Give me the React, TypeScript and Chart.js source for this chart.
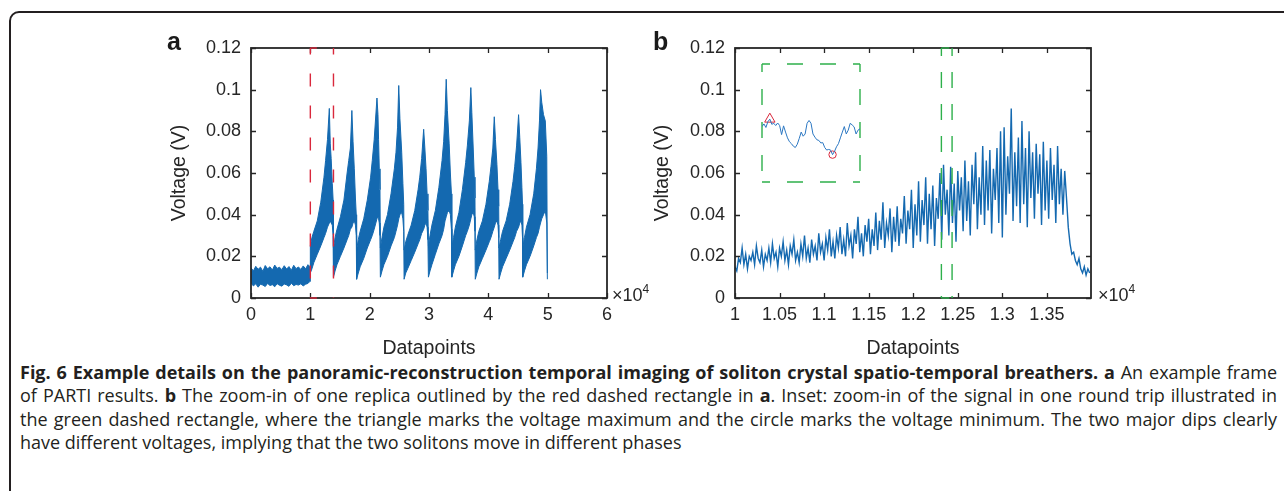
import React, { useEffect, useRef } from 'react';
import { Chart, registerables } from 'chart.js';

Chart.register(...registerables);

// ---------------- Panel a : full frame (x in units of 10^4 datapoints) ----------------
const aX = [
  0, 0.04, 0.08, 0.12, 0.16, 0.2, 0.24, 0.28, 0.32, 0.36, 0.4, 0.44, 0.48, 0.52, 0.56, 0.6, 0.64, 0.68, 0.72, 0.76, 0.8, 0.84, 0.88, 0.92, 0.96, 0.995,
  1.000, 1.027, 1.059, 1.117, 1.176, 1.230, 1.257, 1.289, 1.320, 1.336, 1.351, 1.370, 1.384,
  1.390, 1.417, 1.449, 1.507, 1.566, 1.620, 1.647, 1.675, 1.700, 1.720, 1.741, 1.760, 1.774,
  1.780, 1.808, 1.840, 1.900, 1.960, 2.016, 2.044, 2.076, 2.123, 2.140, 2.150, 2.162, 2.174,
  2.180, 2.208, 2.240, 2.300, 2.360, 2.416, 2.444, 2.470, 2.490, 2.510, 2.540, 2.560, 2.574,
  2.580, 2.608, 2.640, 2.700, 2.760, 2.816, 2.844, 2.876, 2.910, 2.930, 2.950, 2.968, 2.982,
  2.990, 3.017, 3.049, 3.107, 3.166, 3.220, 3.247, 3.270, 3.290, 3.310, 3.340, 3.360, 3.378,
  3.385, 3.413, 3.444, 3.504, 3.563, 3.618, 3.646, 3.680, 3.705, 3.722, 3.745, 3.763, 3.775,
  3.780, 3.808, 3.840, 3.900, 3.960, 4.016, 4.044, 4.076, 4.100, 4.120, 4.145, 4.163, 4.175,
  4.180, 4.208, 4.240, 4.300, 4.360, 4.416, 4.444, 4.476, 4.510, 4.530, 4.550, 4.566, 4.576,
  4.580, 4.609, 4.642, 4.703, 4.765, 4.810, 4.838, 4.862, 4.880, 4.900, 4.930, 4.960, 4.985,
  4.995,
];
// upper envelope of the dense signal
const aHigh = [
  0.0145, 0.0130, 0.0152, 0.0138, 0.0148, 0.0128, 0.0156, 0.0140, 0.0150, 0.0134, 0.0158, 0.0142, 0.0148, 0.0136, 0.0155, 0.0139, 0.0151, 0.0133, 0.0157, 0.0141, 0.0149, 0.0137, 0.0154, 0.0140, 0.0160, 0.0150,
  0.025, 0.029, 0.032, 0.037, 0.046, 0.058, 0.066, 0.076, 0.091, 0.074, 0.067, 0.055, 0.047,
  0.024, 0.029, 0.033, 0.039, 0.047, 0.060, 0.066, 0.072, 0.090, 0.075, 0.062, 0.048, 0.040,
  0.023, 0.028, 0.032, 0.038, 0.047, 0.058, 0.066, 0.076, 0.096, 0.088, 0.076, 0.062, 0.052,
  0.024, 0.029, 0.034, 0.040, 0.050, 0.062, 0.070, 0.082, 0.102, 0.086, 0.070, 0.055, 0.045,
  0.023, 0.027, 0.030, 0.035, 0.042, 0.052, 0.058, 0.067, 0.081, 0.072, 0.062, 0.050, 0.042,
  0.025, 0.030, 0.035, 0.042, 0.053, 0.066, 0.075, 0.088, 0.105, 0.090, 0.074, 0.060, 0.050,
  0.024, 0.029, 0.034, 0.041, 0.052, 0.065, 0.073, 0.085, 0.101, 0.089, 0.072, 0.058, 0.048,
  0.023, 0.028, 0.032, 0.037, 0.045, 0.056, 0.063, 0.072, 0.087, 0.076, 0.064, 0.052, 0.044,
  0.024, 0.028, 0.032, 0.037, 0.045, 0.056, 0.063, 0.073, 0.088, 0.077, 0.065, 0.053, 0.045,
  0.024, 0.029, 0.034, 0.040, 0.050, 0.062, 0.072, 0.085, 0.100, 0.094, 0.088, 0.085, 0.068,
  0.012,
];
// lower envelope of the dense signal
const aLow = [
  0.0072, 0.0058, 0.0068, 0.0052, 0.0066, 0.0062, 0.0055, 0.0070, 0.0060, 0.0064, 0.0054, 0.0069, 0.0061, 0.0057, 0.0067, 0.0063, 0.0056, 0.0071, 0.0059, 0.0065, 0.0062, 0.0068, 0.0058, 0.0066, 0.0070, 0.0080,
  0.012, 0.014, 0.017, 0.021, 0.025, 0.029, 0.031, 0.034, 0.036, 0.037, 0.036, 0.035, 0.030,
  0.010, 0.013, 0.016, 0.020, 0.024, 0.028, 0.030, 0.033, 0.034, 0.036, 0.037, 0.035, 0.030,
  0.009, 0.012, 0.015, 0.019, 0.024, 0.028, 0.030, 0.033, 0.038, 0.039, 0.038, 0.036, 0.030,
  0.010, 0.013, 0.016, 0.020, 0.025, 0.029, 0.032, 0.035, 0.038, 0.040, 0.041, 0.038, 0.032,
  0.009, 0.012, 0.014, 0.018, 0.022, 0.026, 0.028, 0.031, 0.033, 0.035, 0.036, 0.034, 0.028,
  0.010, 0.013, 0.016, 0.021, 0.026, 0.030, 0.033, 0.037, 0.039, 0.041, 0.042, 0.040, 0.033,
  0.010, 0.013, 0.016, 0.020, 0.025, 0.030, 0.032, 0.035, 0.038, 0.040, 0.041, 0.039, 0.032,
  0.009, 0.012, 0.015, 0.019, 0.023, 0.027, 0.029, 0.032, 0.034, 0.036, 0.037, 0.035, 0.029,
  0.009, 0.012, 0.015, 0.019, 0.023, 0.027, 0.029, 0.032, 0.034, 0.036, 0.037, 0.035, 0.029,
  0.010, 0.013, 0.016, 0.020, 0.025, 0.029, 0.031, 0.034, 0.036, 0.038, 0.040, 0.042, 0.036,
  0.009,
];
const aXTicks = [0, 1, 2, 3, 4, 5, 6];
const aXTickLabels = ['0', '1', '2', '3', '4', '5', '6'];
const redBoxX = [1.0, 1.39]; // replica outlined in a (x 10^4)

const yTicks = [0, 0.02, 0.04, 0.06, 0.08, 0.1, 0.12];
const yTickLabels = ['0', '0.02', '0.04', '0.06', '0.08', '0.1', '0.12'];

// ---------------- Panel b : one replica (x in datapoints) ----------------
const bFirstDatapoint = 10000;
const bDatapointStep = 20;
const bValues = [
  0.015, 0.013, 0.019, 0.017, 0.024, 0.016, 0.021, 0.014, 0.020, 0.018,
  0.022, 0.016, 0.025, 0.019, 0.017, 0.023, 0.015, 0.021, 0.018, 0.024,
  0.017, 0.026, 0.019, 0.022, 0.015, 0.024, 0.020, 0.027, 0.018, 0.023,
  0.016, 0.025, 0.021, 0.028, 0.018, 0.022, 0.017, 0.026, 0.020, 0.030,
  0.019, 0.024, 0.017, 0.028, 0.021, 0.025, 0.018, 0.031, 0.022, 0.026,
  0.018, 0.029, 0.023, 0.033, 0.020, 0.027, 0.019, 0.030, 0.024, 0.034,
  0.021, 0.028, 0.020, 0.036, 0.025, 0.030, 0.019, 0.033, 0.026, 0.039,
  0.022, 0.031, 0.020, 0.035, 0.027, 0.038, 0.021, 0.033, 0.025, 0.041,
  0.023, 0.037, 0.028, 0.046, 0.024, 0.036, 0.030, 0.043, 0.022, 0.039,
  0.027, 0.044, 0.025, 0.038, 0.031, 0.049, 0.026, 0.042, 0.033, 0.052,
  0.024, 0.045, 0.030, 0.056, 0.027, 0.047, 0.035, 0.058, 0.026, 0.050,
  0.033, 0.054, 0.025, 0.048, 0.038, 0.060, 0.028, 0.064, 0.040, 0.052,
  0.030, 0.063, 0.036, 0.055, 0.027, 0.061, 0.042, 0.058, 0.032, 0.066,
  0.037, 0.056, 0.030, 0.064, 0.045, 0.070, 0.033, 0.058, 0.040, 0.073,
  0.035, 0.066, 0.042, 0.071, 0.031, 0.062, 0.047, 0.072, 0.036, 0.080,
  0.029, 0.082, 0.040, 0.068, 0.050, 0.091, 0.037, 0.070, 0.044, 0.077,
  0.036, 0.085, 0.045, 0.072, 0.034, 0.080, 0.048, 0.070, 0.038, 0.074,
  0.050, 0.069, 0.035, 0.075, 0.042, 0.066, 0.038, 0.072, 0.047, 0.064,
  0.036, 0.073, 0.045, 0.062, 0.040, 0.061, 0.048, 0.034, 0.026, 0.021,
  0.022, 0.018, 0.016, 0.019, 0.014, 0.012, 0.015, 0.011, 0.014, 0.012,
];
const bXMin = 10000;
const bXMax = 13995;
const bXTicks = [10000, 10500, 11000, 11500, 12000, 12500, 13000, 13500];
const bXTickLabels = ['1', '1.05', '1.1', '1.15', '1.2', '1.25', '1.3', '1.35'];
const greenBoxX = [12316, 12436]; // one round trip, in datapoints

// ---------------- Inset : one round trip ----------------
const insetFirstDatapoint = 12316;
const insetDatapointStep = 2.4;
const insetValues = [
  0.0545, 0.0571, 0.0536, 0.0593, 0.0618, 0.0567, 0.0577, 0.0555, 0.0580, 0.0555,
  0.0466, 0.0552, 0.0491, 0.0434, 0.0396, 0.0377, 0.0352, 0.0339, 0.0371, 0.0428,
  0.0491, 0.0450, 0.0472, 0.0577, 0.0605, 0.0577, 0.0472, 0.0441, 0.0415, 0.0409,
  0.0384, 0.0387, 0.0339, 0.0314, 0.0320, 0.0314, 0.0269, 0.0301, 0.0346, 0.0377,
  0.0434, 0.0491, 0.0545, 0.0472, 0.0510, 0.0577, 0.0561, 0.0542, 0.0472, 0.0510,
  0.0523,
];
const insetMaxIndex = 4;
const insetMinIndex = 36;
const insetYMax = 0.116;

// ---------------- styles ----------------
const BLUE = '#1469b0';
const INSET_BLUE = '#2b77c2';
const RED = '#d9283c';
const GREEN = '#2eb04b';
const AXIS = '#262626';
const FONT = '"Liberation Sans", Arial, Helvetica, sans-serif';
const CAPTION_FONT = '"Open Sans", "Noto Sans", sans-serif';

function dashedRect(ctx: CanvasRenderingContext2D, l: number, t: number, r: number, b: number,
  color: string, dash: number[], offset: number, lw: number) {
  ctx.save();
  ctx.strokeStyle = color;
  ctx.lineWidth = lw;
  ctx.setLineDash(dash);
  ctx.lineDashOffset = offset;
  const seg = (x0: number, y0: number, x1: number, y1: number) => {
    ctx.beginPath();
    ctx.moveTo(x0, y0);
    ctx.lineTo(x1, y1);
    ctx.stroke();
  };
  seg(l, t, r, t);
  seg(r, t, r, b);
  seg(l, b, r, b);
  seg(l, t, l, b);
  ctx.restore();
}

const framePlugin = {
  id: 'matlabFrame',
  afterDatasetsDraw(chart: any) {
    const { ctx, chartArea } = chart;
    const { left, right, top, bottom } = chartArea;
    const xs = chart.scales.x;
    const ys = chart.scales.y;
    const TL = 5;
    ctx.save();
    ctx.strokeStyle = AXIS;
    ctx.lineWidth = 1.3;
    ctx.beginPath();
    for (const t of xs.ticks) {
      const px = Math.round(xs.getPixelForValue(t.value)) + 0.5;
      ctx.moveTo(px, bottom);
      ctx.lineTo(px, bottom - TL);
      ctx.moveTo(px, top);
      ctx.lineTo(px, top + TL);
    }
    for (const t of ys.ticks) {
      const py = Math.round(ys.getPixelForValue(t.value)) + 0.5;
      ctx.moveTo(left, py);
      ctx.lineTo(left + TL, py);
      ctx.moveTo(right, py);
      ctx.lineTo(right - TL, py);
    }
    ctx.stroke();
    ctx.lineWidth = 1.8;
    ctx.strokeRect(left, top, right - left, bottom - top);
    ctx.restore();
  },
};

function boxPlugin(id: string, xr: number[], color: string, dash: number[], offset: number) {
  return {
    id,
    afterDatasetsDraw(chart: any) {
      const xs = chart.scales.x;
      const { top, bottom } = chart.chartArea;
      dashedRect(chart.ctx, xs.getPixelForValue(xr[0]), top, xs.getPixelForValue(xr[1]), bottom,
        color, dash, offset, 1.4);
    },
  };
}

const insetBoxPlugin = {
  id: 'insetBox',
  beforeDatasetsDraw(chart: any) {
    const { left, right, top, bottom } = chart.chartArea;
    dashedRect(chart.ctx, left, top, right, bottom, GREEN, [16, 17], 8, 1.4);
  },
};

const tickFont = { family: FONT, size: 18 };
const titleFont = { family: FONT, size: 19.5 };

function xScale(min: number, max: number, ticks: number[], labels: string[]) {
  return {
    type: 'linear',
    min,
    max,
    grid: { display: false, drawTicks: false },
    border: { display: false },
    afterBuildTicks: (s: any) => { s.ticks = ticks.map((v) => ({ value: v })); },
    afterFit: (s: any) => { s.height = 62; },
    ticks: {
      autoSkip: false, maxRotation: 0, padding: 6, color: AXIS, font: tickFont,
      callback: (_v: any, i: number) => labels[i],
    },
    title: { display: true, text: 'Datapoints', color: AXIS, font: titleFont, padding: { top: 0, bottom: 0 } },
  };
}

function yScale(width: number, titlePad: number) {
  return {
    type: 'linear',
    min: 0,
    max: 0.12,
    grid: { display: false, drawTicks: false },
    border: { display: false },
    afterBuildTicks: (s: any) => { s.ticks = yTicks.map((v) => ({ value: v })); },
    afterFit: (s: any) => { s.width = width; },
    ticks: {
      autoSkip: false, padding: 10, color: AXIS, font: tickFont,
      callback: (_v: any, i: number) => yTickLabels[i],
    },
    title: { display: true, text: 'Voltage (V)', color: AXIS, font: titleFont, padding: { top: titlePad, bottom: 0 } },
  };
}

function makePanelA(): any {
  return {
    type: 'line',
    data: {
      datasets: [
        { data: aX.map((x, i) => ({ x, y: aHigh[i] })), borderColor: BLUE, borderWidth: 1, pointRadius: 0, fill: false },
        { data: aX.map((x, i) => ({ x, y: aLow[i] })), borderColor: BLUE, borderWidth: 1, pointRadius: 0, fill: '-1', backgroundColor: BLUE },
      ],
    },
    options: {
      animation: false,
      responsive: false,
      devicePixelRatio: 1,
      events: [],
      layout: { padding: { left: 0, right: 43, top: 28, bottom: 0 } },
      plugins: { legend: { display: false }, tooltip: { enabled: false } },
      scales: { x: xScale(0, 6, aXTicks, aXTickLabels), y: yScale(101, 18) },
    },
    plugins: [framePlugin, boxPlugin('redBox', redBoxX, RED, [13, 19], 6.5)],
  };
}

function makePanelB(): any {
  return {
    type: 'line',
    data: {
      datasets: [
        {
          data: bValues.map((v, i) => ({ x: bFirstDatapoint + i * bDatapointStep, y: v })),
          borderColor: BLUE, borderWidth: 1.4, pointRadius: 0, fill: false,
        },
      ],
    },
    options: {
      animation: false,
      responsive: false,
      devicePixelRatio: 1,
      events: [],
      layout: { padding: { left: 0, right: 44, top: 28, bottom: 0 } },
      plugins: { legend: { display: false }, tooltip: { enabled: false } },
      scales: { x: xScale(bXMin, bXMax, bXTicks, bXTickLabels), y: yScale(100, 16) },
    },
    plugins: [framePlugin, boxPlugin('greenBox', greenBoxX, GREEN, [16, 16], 8)],
  };
}

function makeInset(): any {
  const px = (i: number) => insetFirstDatapoint + i * insetDatapointStep;
  return {
    type: 'line',
    data: {
      datasets: [
        { data: insetValues.map((v, i) => ({ x: px(i), y: v })), borderColor: INSET_BLUE, borderWidth: 1, pointRadius: 0, fill: false },
        {
          data: [{ x: px(insetMaxIndex), y: insetValues[insetMaxIndex] }], showLine: false, clip: false,
          pointStyle: 'triangle', pointRadius: 6, borderColor: RED, backgroundColor: 'rgba(0,0,0,0)', borderWidth: 1,
        },
        {
          data: [{ x: px(insetMinIndex), y: insetValues[insetMinIndex] }], showLine: false, clip: false,
          pointStyle: 'circle', pointRadius: 3.7, borderColor: RED, backgroundColor: 'rgba(0,0,0,0)', borderWidth: 1,
        },
      ],
    },
    options: {
      animation: false,
      responsive: false,
      devicePixelRatio: 1,
      events: [],
      layout: { padding: { left: 6, right: 6, top: 5, bottom: 5 } },
      plugins: { legend: { display: false }, tooltip: { enabled: false } },
      scales: {
        x: { type: 'linear', display: false, min: px(0), max: px(insetValues.length - 1) },
        y: { type: 'linear', display: false, min: 0, max: insetYMax },
      },
    },
    plugins: [insetBoxPlugin],
  };
}

function ChartBox({ make, left, top, width, height }: { make: () => any; left: number; top: number; width: number; height: number }) {
  const ref = useRef<HTMLCanvasElement>(null);
  useEffect(() => {
    const chart = new Chart(ref.current as HTMLCanvasElement, make());
    return () => chart.destroy();
  }, []);
  return (
    <canvas ref={ref} width={width} height={height}
      style={{ position: 'absolute', left, top, width, height, display: 'block' }} />
  );
}

function Exponent({ left }: { left: number }) {
  return (
    <div style={{ position: 'absolute', left, top: 285.8, fontFamily: FONT, fontSize: 18, lineHeight: '18px', color: AXIS, whiteSpace: 'nowrap' }}>
      ×10<span style={{ fontSize: 12, position: 'relative', top: -8 }}>4</span>
    </div>
  );
}

function PanelLetter({ left, text }: { left: number; text: string }) {
  return (
    <div style={{ position: 'absolute', left, top: 29, fontFamily: FONT, fontWeight: 700, fontSize: 25, lineHeight: '25px', color: '#1a1a1a' }}>
      {text}
    </div>
  );
}

const captionLine: React.CSSProperties = {
  position: 'absolute', left: 20, width: 1257, fontFamily: CAPTION_FONT, fontSize: 18, lineHeight: '18px',
  color: '#231f20', textAlign: 'justify', textAlignLast: 'justify', whiteSpace: 'nowrap',
};

export default function App() {
  return (
    <div style={{ position: 'fixed', left: 0, top: 0, width: 1284, height: 491, overflow: 'hidden', background: '#fff' }}>
      <div style={{ position: 'absolute', left: 9, top: 11, width: 1320, height: 540, border: '2.5px solid #231f20', borderRadius: 10, boxSizing: 'border-box' }} />
      <ChartBox make={makePanelA} left={150} top={20} width={500} height={340} />
      <ChartBox make={makePanelB} left={635} top={20} width={500} height={340} />
      <ChartBox make={makeInset} left={755} top={57} width={112} height={132} />
      <PanelLetter left={167} text="a" />
      <PanelLetter left={653} text="b" />
      <Exponent left={612} />
      <Exponent left={1098} />
      <div style={{ ...captionLine, top: 363.4 }}>
        <b>Fig. 6 Example details on the panoramic-reconstruction temporal imaging of soliton crystal spatio-temporal breathers. a</b> An example frame
      </div>
      <div style={{ ...captionLine, top: 386.4 }}>
        of PARTI results. <b>b</b> The zoom-in of one replica outlined by the red dashed rectangle in <b>a</b>. Inset: zoom-in of the signal in one round trip illustrated in
      </div>
      <div style={{ ...captionLine, top: 410.4 }}>
        the green dashed rectangle, where the triangle marks the voltage maximum and the circle marks the voltage minimum. The two major dips clearly
      </div>
      <div style={{ ...captionLine, top: 433.4, textAlign: 'left', textAlignLast: 'left' }}>
        have different voltages, implying that the two solitons move in different phases
      </div>
    </div>
  );
}
